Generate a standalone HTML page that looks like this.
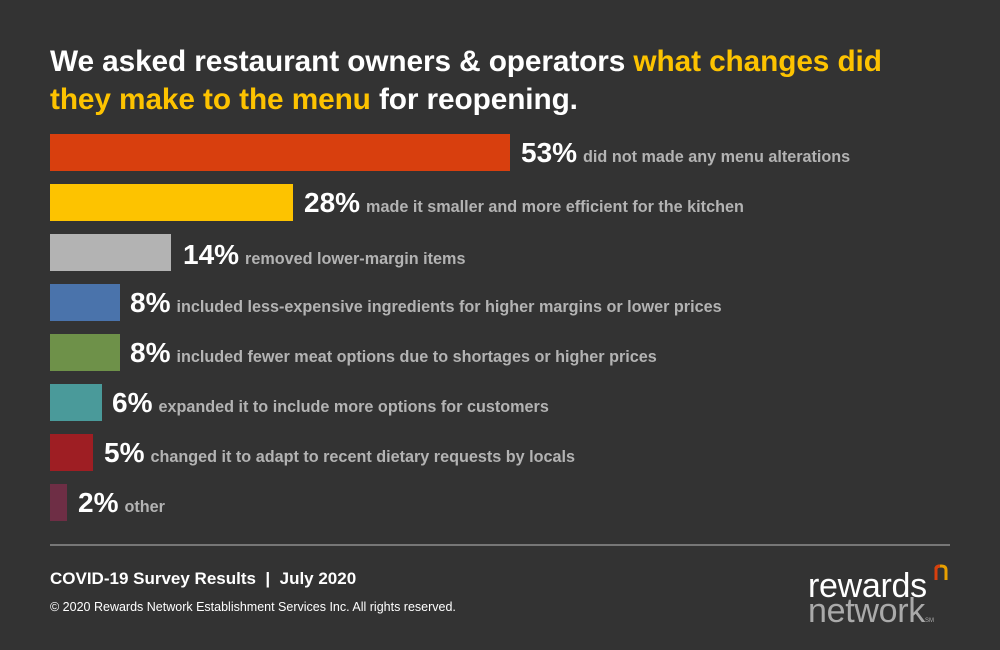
<!DOCTYPE html>
<html><head><meta charset="utf-8"><style>
body{margin:0;background:#333333;}
#c{position:relative;width:1000px;height:650px;background:#333333;font-family:"Liberation Sans",sans-serif;overflow:hidden}
.t{position:absolute;left:50px;top:43px;color:#fff;font-weight:bold;font-size:29.8px;line-height:38px;letter-spacing:-0.1px}
.y{color:#fdc300}
.b{position:absolute;left:50px;height:37px}
.l{position:absolute;white-space:nowrap;color:#fff;font-weight:bold;font-size:28px;line-height:37px}
.l span{font-size:16.2px;color:#b3b3b3;margin-left:6px}
.hr{position:absolute;left:50px;top:544px;width:900px;height:2px;background:#777}
</style></head><body><div id="c">
<div class="t">We asked restaurant owners &amp; operators <span class="y">what changes did<br>they make to the menu</span> for reopening.</div>
<div class="b" style="top:134px;width:460px;background:#d83f0e"></div><div class="l" style="top:134px;left:521px">53%<span>did not made any menu alterations</span></div>
<div class="b" style="top:184px;width:243px;background:#fdc300"></div><div class="l" style="top:184px;left:304px">28%<span>made it smaller and more efficient for the kitchen</span></div>
<div class="b" style="top:234px;width:121px;background:#b3b3b3"></div><div class="l" style="top:236px;left:183px">14%<span>removed lower-margin items</span></div>
<div class="b" style="top:284px;width:70px;background:#4a73ab"></div><div class="l" style="top:284px;left:130px">8%<span>included less-expensive ingredients for higher margins or lower prices</span></div>
<div class="b" style="top:334px;width:70px;background:#6e9149"></div><div class="l" style="top:334px;left:130px">8%<span>included fewer meat options due to shortages or higher prices</span></div>
<div class="b" style="top:384px;width:52px;background:#4a9a9a"></div><div class="l" style="top:384px;left:112px">6%<span>expanded it to include more options for customers</span></div>
<div class="b" style="top:434px;width:43px;background:#9e1e23"></div><div class="l" style="top:434px;left:104px">5%<span>changed it to adapt to recent dietary requests by locals</span></div>
<div class="b" style="top:484px;width:17px;background:#6e2e45"></div><div class="l" style="top:484px;left:78px">2%<span>other</span></div>
<div class="hr"></div>
<div style="position:absolute;left:50px;top:569px;color:#fff;font-weight:bold;font-size:17px">COVID-19 Survey Results &nbsp;| &nbsp;July 2020</div>
<div style="position:absolute;left:50px;top:600px;color:#fff;font-size:12.5px">© 2020 Rewards Network Establishment Services Inc. All rights reserved.</div>
<div style="position:absolute;left:808px;top:572px;color:#fff;font-size:34px;line-height:28px;letter-spacing:-0.3px">rewards</div>
<div style="position:absolute;left:808px;top:597px;color:#aaa;font-size:34px;line-height:28px;letter-spacing:-0.3px">network<span style="font-size:6px;letter-spacing:0">SM</span></div>
<svg style="position:absolute;left:933px;top:563px" width="18" height="18"><path d="M3 17V6 Q3 3 8 3 Q13 3 13 7V17" fill="none" stroke="#e8a000" stroke-width="3"/><path d="M3 17V6 Q3 3 7 3" fill="none" stroke="#d83f0e" stroke-width="3"/></svg>
</div></body></html>
